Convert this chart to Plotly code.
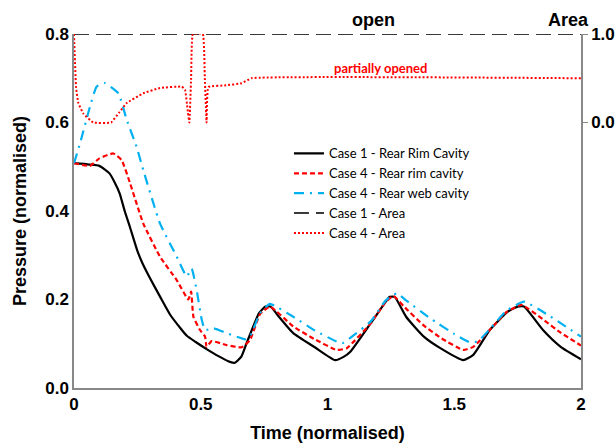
import plotly.graph_objects as go

# ---------------- data ----------------
# Case 1 - Rear Rim Cavity (pressure, normalised)
x_c1 = [0.0, 0.06, 0.10, 0.14, 0.16, 0.18, 0.20, 0.22, 0.25, 0.27, 0.30, 0.34, 0.38, 0.42, 0.445, 0.48,
        0.523, 0.57, 0.615, 0.635, 0.66, 0.68, 0.73, 0.755, 0.775, 0.81, 0.865, 0.95, 1.03, 1.065,
        1.09, 1.17, 1.23, 1.245, 1.265, 1.31, 1.38, 1.445, 1.535, 1.575, 1.64, 1.71, 1.75, 1.775,
        1.85, 1.92, 2.0]
y_c1 = [0.508, 0.505, 0.502, 0.485, 0.465, 0.440, 0.400, 0.365, 0.310, 0.282, 0.248, 0.206, 0.165, 0.135,
        0.118, 0.104, 0.088, 0.072, 0.059, 0.057, 0.071, 0.100, 0.169, 0.184, 0.184, 0.160, 0.124,
        0.092, 0.063, 0.071, 0.082, 0.146, 0.195, 0.206, 0.206, 0.161, 0.116, 0.090, 0.063, 0.075,
        0.131, 0.172, 0.184, 0.184, 0.131, 0.093, 0.065]

# Case 4 - Rear rim cavity
x_c4r = [0.0, 0.063, 0.10, 0.155, 0.188, 0.221, 0.273, 0.339, 0.405, 0.451, 0.462, 0.471, 0.497,
         0.517, 0.523, 0.543, 0.602, 0.661, 0.694, 0.734, 0.773, 0.865, 0.95, 1.036, 1.076,
         1.17, 1.23, 1.26, 1.30, 1.378, 1.45, 1.536, 1.575, 1.64, 1.707, 1.765, 1.85, 1.92, 2.0]
y_c4r = [0.508, 0.502, 0.519, 0.530, 0.515, 0.463, 0.372, 0.297, 0.244, 0.200, 0.218, 0.161, 0.131,
         0.116, 0.093, 0.106, 0.097, 0.092, 0.108, 0.167, 0.184, 0.139, 0.110, 0.086, 0.090,
         0.146, 0.195, 0.208, 0.185, 0.142, 0.112, 0.086, 0.093, 0.131, 0.172, 0.188, 0.155, 0.125, 0.096]

# Case 4 - Rear web cavity
x_c4w = [0.0, 0.024, 0.063, 0.089, 0.122, 0.175, 0.208, 0.247, 0.273, 0.339, 0.405, 0.445, 0.464,
         0.484, 0.504, 0.517, 0.550, 0.602, 0.675, 0.694, 0.734, 0.773, 0.865, 0.95, 1.04, 1.062,
         1.10, 1.17, 1.23, 1.273, 1.31, 1.404, 1.50, 1.562, 1.595, 1.64, 1.707, 1.775, 1.87, 2.0]
y_c4w = [0.508, 0.553, 0.636, 0.681, 0.689, 0.666, 0.606, 0.545, 0.493, 0.372, 0.297, 0.252, 0.270,
         0.221, 0.154, 0.131, 0.135, 0.124, 0.110, 0.116, 0.169, 0.190, 0.161, 0.130, 0.104, 0.102,
         0.118, 0.150, 0.198, 0.214, 0.198, 0.158, 0.122, 0.103, 0.106, 0.133, 0.175, 0.195, 0.165, 0.116]

# Case 1 - Area (right axis)
x_a1 = [0.0, 2.0]
y_a1 = [1.0, 1.0]

# Case 4 - Area (right axis)
x_a4 = [0.0, 0.008, 0.017, 0.037, 0.076, 0.146, 0.18, 0.208, 0.273, 0.339, 0.425, 0.438, 0.448,
        0.455, 0.462, 0.469, 0.508, 0.516, 0.523, 0.530, 0.60, 0.661, 0.70, 2.0]
y_a4 = [1.0, 0.40, 0.22, 0.10, 0.0, 0.0, 0.12, 0.22, 0.33, 0.39, 0.405, 0.37, 0.15,
        0.0, 0.5, 1.0, 1.0, 0.5, 0.0, 0.40, 0.42, 0.443, 0.50, 0.50]

x_ticks = [0, 0.5, 1, 1.5, 2]
x_ticktext = ["0", "0.5", "1", "1.5", "2"]
y_ticks = [0.0, 0.2, 0.4, 0.6, 0.8]
y2_ticks = [0.0, 1.0]
y2_ticktext = ["0.0", "1.0"]

# ---------------- figure ----------------
fig = go.Figure()
fig.add_trace(go.Scatter(x=x_c1, y=y_c1, mode="lines", name="Case 1 - Rear Rim Cavity",
                         line=dict(color="#000000", width=2.2, shape="spline", smoothing=0.5)))
fig.add_trace(go.Scatter(x=x_c4r, y=y_c4r, mode="lines", name="Case 4 - Rear rim cavity",
                         line=dict(color="#ff0000", width=2.2, dash="5px,3px", shape="spline", smoothing=0.4)))
fig.add_trace(go.Scatter(x=x_c4w, y=y_c4w, mode="lines", name="Case 4 - Rear web cavity",
                         line=dict(color="#00B0F0", width=2.2, dash="10px,6px,2px,6px", shape="spline", smoothing=0.4)))
fig.add_trace(go.Scatter(x=x_a1, y=y_a1, mode="lines", name="Case 1 - Area", yaxis="y2",
                         line=dict(color="#3a3a3a", width=2, dash="15px,7px")))
fig.add_trace(go.Scatter(x=x_a4, y=y_a4, mode="lines", name="Case 4 - Area", yaxis="y2",
                         line=dict(color="#ff0000", width=2, dash="2px,2px", shape="spline", smoothing=0.3)))

bold = "Liberation Sans"
fig.update_layout(
    width=615, height=443,
    margin=dict(l=74, r=34, t=34, b=55, autoexpand=False),
    plot_bgcolor="white", paper_bgcolor="white",
    showlegend=True,
    legend=dict(x=0.424, y=0.705, xanchor="left", yanchor="top",
                font=dict(family="Lato", size=13, color="#000"),
                bgcolor="rgba(0,0,0,0)", tracegroupgap=0, itemwidth=30),
    xaxis=dict(range=[0, 2], tickvals=x_ticks, ticktext=x_ticktext, showgrid=False, zeroline=False,
               showline=True, linecolor="#888", linewidth=1.5, ticks="", automargin=False,
               tickfont=dict(family=bold, size=17, color="#000", weight="bold"),
               title=dict(text="<b>Time (normalised)</b>", font=dict(family=bold, size=18, color="#000"),
                          standoff=14)),
    yaxis=dict(range=[0, 0.8], tickvals=y_ticks, tickformat=".1f", showgrid=False, zeroline=False,
               showline=True, linecolor="#888", linewidth=1.5, ticks="", automargin=False,
               tickfont=dict(family=bold, size=17, color="#000", weight="bold"),
               title=dict(text="<b>Pressure (normalised)</b>", font=dict(family=bold, size=18, color="#000"),
                          standoff=14)),
    yaxis2=dict(range=[-3.0, 1.0], overlaying="y", side="right", tickvals=y2_ticks, ticktext=y2_ticktext,
                showgrid=False, zeroline=False, showline=True, linecolor="#888", linewidth=1.5,
                ticks="outside", ticklen=5, tickcolor="#888", automargin=False,
                tickfont=dict(family=bold, size=17, color="#000", weight="bold")),
    annotations=[
        dict(text="<b>open</b>", x=1.18, y=1.0, xref="x", yref="paper", yanchor="bottom",
             yshift=2, showarrow=False, font=dict(family=bold, size=18, color="#000")),
        dict(text="<b>Area</b>", x=1.95, y=1.0, xref="x", yref="paper", yanchor="bottom",
             yshift=2, showarrow=False, font=dict(family=bold, size=18, color="#000")),
        dict(text="<b>partially opened</b>", x=1.21, y=0.5, xref="x", yref="y2", yanchor="bottom",
             yshift=0, showarrow=False, font=dict(family="Lato", size=13, color="#ff0000")),
    ],
)

# remove the default page margin so the 615x443 figure fills the window exactly
fig.write_html("out.html", config={"displayModeBar": False},
               post_script="document.body.style.margin='0';document.body.style.overflow='hidden';")
